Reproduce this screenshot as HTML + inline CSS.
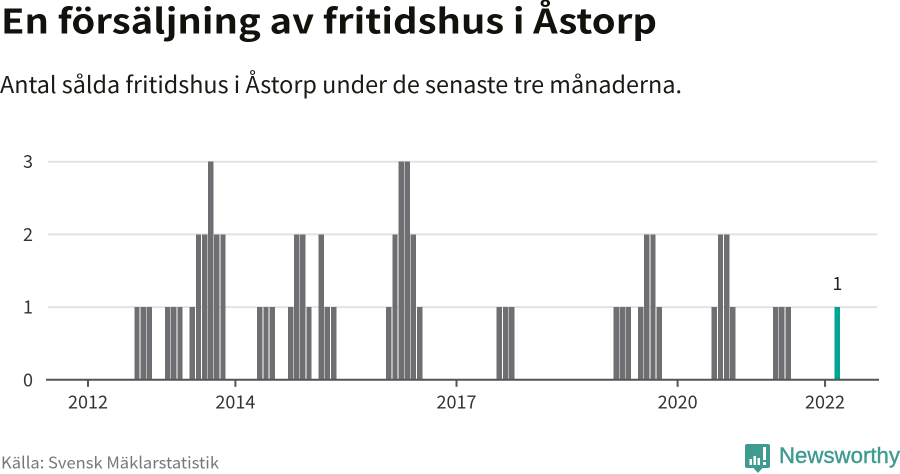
<!DOCTYPE html>
<html lang="sv">
<head>
<meta charset="utf-8">
<title>En försäljning av fritidshus i Åstorp</title>
<style>
html,body{margin:0;padding:0;background:#fff;width:900px;height:474px;overflow:hidden}
svg{display:block}
text{font-family:"Noto Sans CJK JP","Liberation Sans",sans-serif}
</style>
</head>
<body>
<svg id="chart" width="900" height="474" viewBox="0 0 900 474" xmlns="http://www.w3.org/2000/svg">
  <text x="1" y="33.500" font-size="34" font-weight="700" fill="#12120d" textLength="656" lengthAdjust="spacingAndGlyphs">En försäljning av fritidshus i Åstorp</text>
  <text x="0" y="93" font-size="23" fill="#1a1a16" textLength="682" lengthAdjust="spacingAndGlyphs">Antal sålda fritidshus i Åstorp under de senaste tre månaderna.</text>
  <g id="grid"></g>
  <g id="bars"></g>
  <g id="axis"></g>
  <g id="yaxis"></g>
  <text x="1" y="468.500" font-size="16" fill="#77777a" textLength="218" lengthAdjust="spacingAndGlyphs">Källa: Svensk Mäklarstatistik</text>
  <g>
    <path d="M747 444h21a2 2 0 0 1 2 2v20a2 2 0 0 1-2 2h-5.500l-4.500 5-4.500-5h-6.500a2 2 0 0 1-2-2v-20a2 2 0 0 1 2-2z" fill="#3f9b90"/>
    <rect x="749.500" y="459" width="2.500" height="6" fill="#fff"/>
    <rect x="753.500" y="456" width="2.500" height="9" fill="#fff"/>
    <rect x="757.500" y="458" width="2.500" height="7" fill="#fff"/>
    <rect x="763" y="447" width="3" height="13" fill="#fff"/>
    <rect x="763" y="462" width="3" height="3" fill="#fff"/>
    <text x="779" y="463" font-size="22" font-weight="500" fill="#3f9b90" style="font-family:'Liberation Sans',sans-serif" stroke="#3f9b90" stroke-width="0.400" textLength="121" lengthAdjust="spacingAndGlyphs">Newsworthy</text>
  </g>
</svg>
<script>
// Month index: 0 = Jan 2012
var saleMonths = [8,9,10,13,14,15,17,18,19,20,21,22,28,29,30,33,34,35,36,38,39,40,49,50,51,52,53,54,67,68,69,86,87,88,90,91,92,93,102,103,104,105,112,113,114,122];
var saleValues = [1,1,1,1,1,1,1,2,2,3,2,2,1,1,1,1,2,2,1,2,1,1,1,2,3,3,2,1,1,1,1,1,1,1,1,2,2,1,1,2,2,1,1,1,1,1];
var highlightMonth = 122;
var yTicks = [0,1,2,3];
var xTickYears = [2012,2014,2017,2020,2022];

var svg = document.getElementById('chart');
var NS = 'http://www.w3.org/2000/svg';
function xScale(monthIndex){ return 88 + monthIndex * 6.142; }
function yScale(v){ return 379.8 - v * 72.7; }
function yearToMonth(y){ return (y - 2012) * 12; }
function make(tag, attrs, parent){
  var el = document.createElementNS(NS, tag);
  for (var k in attrs) el.setAttribute(k, attrs[k]);
  parent.appendChild(el);
  return el;
}

var grid = document.getElementById('grid');
var yaxis = document.getElementById('yaxis');
yTicks.forEach(function(t){
  if (t > 0) {
    var line = make('line', {x1:48, x2:877, y1:yScale(t), y2:yScale(t), stroke:'#e3e3e3', 'stroke-width':2}, grid);
    
    
  }
  var lab = make('text', {x:28, y:yScale(t)+6.5, 'font-size':18, fill:'#333', 'text-anchor':'middle'}, yaxis);
  lab.textContent = t;
  
  
});

var bars = document.getElementById('bars');
saleMonths.forEach(function(m, i){
  var isLast = m === highlightMonth;
  var top = yScale(saleValues[i]);
  var r = make('rect', {x:xScale(m)-2.8, y:top, width:5.4, height:yScale(0)-top, fill:isLast ? '#00a596' : '#6f6e73', 'shape-rendering':'crispEdges'}, bars);
  
  
  if (isLast) {
    var v = make('text', {x:xScale(m), y:top-17, 'font-size':18, fill:'#222', 'text-anchor':'middle'}, bars);
    v.textContent = saleValues[i];
    
    
  }
});

var axis = document.getElementById('axis');
var base = make('line', {x1:46, x2:879, y1:yScale(0), y2:yScale(0), stroke:'#555', 'stroke-width':2}, axis);


xTickYears.forEach(function(y){
  var x = xScale(yearToMonth(y));
  var tick = make('line', {x1:x, x2:x, y1:yScale(0), y2:yScale(0)+7, stroke:'#555', 'stroke-width':2}, axis);
  
  
  var lab = make('text', {x:x, y:408.5, 'font-size':18, fill:'#333', 'text-anchor':'middle'}, axis);
  lab.textContent = y;
  
  
});
</script>
</body>
</html>
